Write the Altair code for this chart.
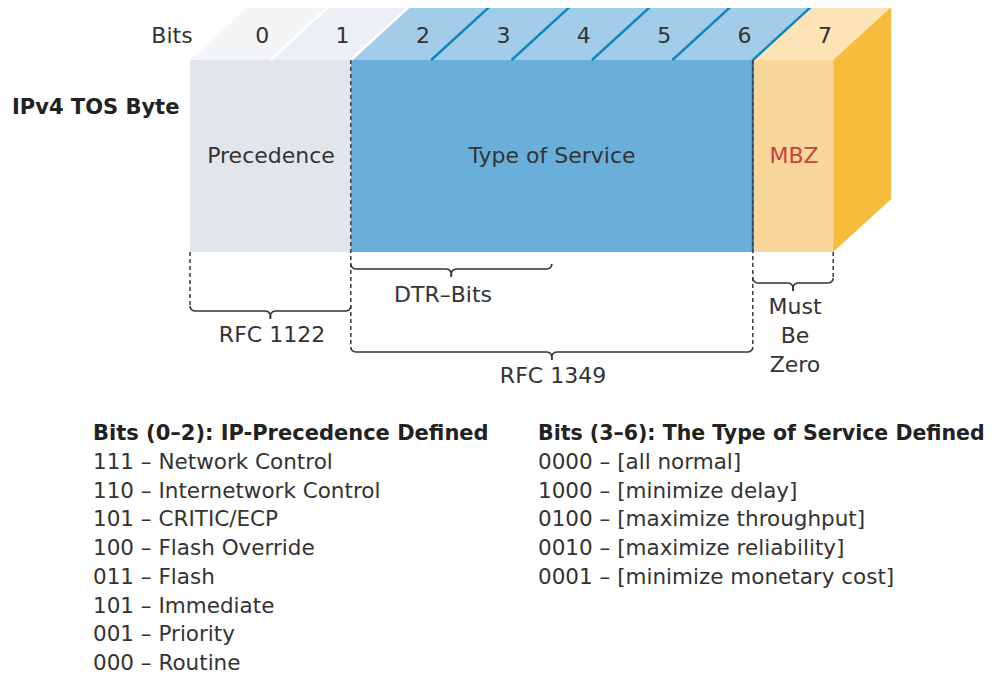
import math
import altair as alt
import pandas as pd

# ---------------- content ----------------
bit_labels = ["0", "1", "2", "3", "4", "5", "6", "7"]
field_names = ["Precedence", "Type of Service", "MBZ"]
field_start = [0, 2, 7]
field_end = [2, 7, 8]
field_text_color = ["#333333", "#333333", "#c9433a"]
front_colors = ["#e2e6eb", "#6aafda", "#f9d79a"]
top_colors = ["#f3f5f7", "#eceff3", "#a2cce8", "#a2cce8", "#a2cce8", "#a2cce8", "#a2cce8", "#fde3b6"]
side_color = "#f6bd3d"

# braces: (start bit, end bit, label lines)
brace_start = [0, 2, 2, 7]
brace_end = [2, 4.5, 7, 8]
brace_labels = [["RFC 1122"], ["DTR\u2013Bits"], ["RFC 1349"], ["Must", "Be", "Zero"]]

prec_header = "Bits (0\u20132): IP-Precedence Defined"
prec_codes = ["111", "110", "101", "100", "011", "101", "001", "000"]
prec_names = ["Network Control", "Internetwork Control", "CRITIC/ECP", "Flash Override",
              "Flash", "Immediate", "Priority", "Routine"]

tos_header = "Bits (3\u20136): The Type of Service Defined"
tos_codes = ["0000", "1000", "0100", "0010", "0001"]
tos_names = ["[all normal]", "[minimize delay]", "[maximize throughput]",
             "[maximize reliability]", "[minimize monetary cost]"]

# ---------------- layout (page pixel coordinates) ----------------
X0, BW = 190.0, 80.4
YT, YB = 60.0, 252.0
DX, DY = 58.0, -53.0
FONT = "DejaVu Sans"


def X(b):
    return X0 + BW * b


xs = alt.Scale(domain=[8, 989], zero=False, nice=False)
ys = alt.Scale(domain=[8, 676], zero=False, nice=False, reverse=True)


def enc(**kw):
    out = {}
    for k, v in kw.items():
        if k in ("x", "x2"):
            out[k] = alt.X(v, type="quantitative", scale=xs, axis=None) if k == "x" else alt.X2(v)
        elif k in ("y", "y2"):
            out[k] = alt.Y(v, type="quantitative", scale=ys, axis=None) if k == "y" else alt.Y2(v)
        else:
            out[k] = v
    return out


# top face (per bit parallelograms)
top_rows = []
for b in range(8):
    top_rows.append(dict(seg=b, y=YT, x=X(b), x2=X(b + 1), fill=top_colors[b]))
    top_rows.append(dict(seg=b, y=YT + DY, x=X(b) + DX, x2=X(b + 1) + DX, fill=top_colors[b]))
top = alt.Chart(pd.DataFrame(top_rows)).mark_area(orient="horizontal", strokeWidth=0).encode(
    **enc(y="y", x="x", x2="x2"),
    detail="seg:N",
    color=alt.Color("fill:N", scale=None),
)

# side face
side_df = pd.DataFrame([
    dict(x=X(8), y=YT, y2=YB),
    dict(x=X(8) + DX, y=YT + DY, y2=YB + DY),
])
side = alt.Chart(side_df).mark_area(color=side_color).encode(**enc(x="x", y="y", y2="y2"))

# front faces
front_df = pd.DataFrame(dict(
    x=[X(s) for s in field_start], x2=[X(e) for e in field_end],
    y=[YT] * 3, y2=[YB] * 3, fill=front_colors,
))
front = alt.Chart(front_df).mark_rect().encode(
    **enc(x="x", x2="x2", y="y", y2="y2"), color=alt.Color("fill:N", scale=None)
)

# separators on top face
sep_bits = [1, 2, 3, 4, 5, 6, 7]
sep_colors = ["#ffffff", "#ffffff", "#0b87bd", "#0b87bd", "#0b87bd", "#0b87bd", "#0b87bd"]
sep_df = pd.DataFrame(dict(
    x=[X(b) for b in sep_bits], y=[YT] * 7,
    x2=[X(b) + DX for b in sep_bits], y2=[YT + DY] * 7, c=sep_colors,
))
seps = alt.Chart(sep_df).mark_rule(strokeWidth=2.4).encode(
    **enc(x="x", y="y", x2="x2", y2="y2"), color=alt.Color("c:N", scale=None)
)

# solid dark-blue edge at bit 7 on front
edge7 = alt.Chart(pd.DataFrame(dict(x=[X(7)], y=[YT], y2=[YB]))).mark_rule(
    color="#1a6e9e", strokeWidth=2).encode(**enc(x="x", y="y", y2="y2"))

# dashed guides
R = 5.0
brace_y = [311.0, 269.0, 352.0, 283.0]
dash_df = pd.DataFrame(dict(
    x=[X(2), X(7), X(0), X(8)],
    y=[YT, YT, YB, YB],
    y2=[brace_y[2] - R, brace_y[2] - R, brace_y[0] - R, brace_y[3] - R],
))
dashes = alt.Chart(dash_df).mark_rule(color="#3a4656", strokeWidth=1.6, strokeDash=[4, 3]).encode(
    **enc(x="x", y="y", y2="y2"))

# braces


def arc(cx, cy, r, a0, a1, n=6):
    return [(cx + r * math.cos(math.radians(a0 + (a1 - a0) * i / n)),
             cy + r * math.sin(math.radians(a0 + (a1 - a0) * i / n))) for i in range(n + 1)]


brace_rows = []
for k in range(4):
    xa, xb, yl = X(brace_start[k]), X(brace_end[k]), brace_y[k]
    xm = (xa + xb) / 2
    left = arc(xa + R, yl - R, R, 180, 90) + arc(xm - R, yl + R, R, -90, 0) + [(xm, yl + 8)]
    right = arc(xb - R, yl - R, R, 0, 90) + arc(xm + R, yl + R, R, -90, -180) + [(xm, yl + 8)]
    for side_name, pts in (("L", left), ("R", right)):
        for i, (px, py) in enumerate(pts):
            brace_rows.append(dict(path=f"{k}{side_name}", i=i, x=px, y=py))
braces = alt.Chart(pd.DataFrame(brace_rows)).mark_line(color="#333333", strokeWidth=1.6).encode(
    **enc(x="x", y="y"), detail="path:N", order="i:Q")

# ---------------- texts ----------------
text_rows = []
text_rows.append(dict(t="Bits", x=172, y=36, s=22, w="normal", c="#333333", a="center"))
for b, lab in enumerate(bit_labels):
    text_rows.append(dict(t=lab, x=X(b + 0.5) + 32, y=36, s=22, w="normal", c="#333333", a="center"))
text_rows.append(dict(t="IPv4 TOS Byte", x=12, y=108, s=21, w="bold", c="#222222", a="left"))
field_cx = [271, 552, 794]
for name, cx, col in zip(field_names, field_cx, field_text_color):
    text_rows.append(dict(t=name, x=cx, y=156, s=22, w="normal", c=col, a="center"))
brace_text_x = [272, 443, 553, 795]
brace_text_y = [335, 295, 376, 307]
for k, lines in enumerate(brace_labels):
    for j, ln in enumerate(lines):
        text_rows.append(dict(t=ln, x=brace_text_x[k], y=brace_text_y[k] + 29 * j, s=22,
                              w="normal", c="#333333", a="center"))

LINE = 28.7
HEAD_Y = 434
FIRST_Y = 463
text_rows.append(dict(t=prec_header, x=93, y=HEAD_Y, s=21, w="bold", c="#222222", a="left"))
for j, (cd, nm) in enumerate(zip(prec_codes, prec_names)):
    text_rows.append(dict(t=f"{cd} \u2013 {nm}", x=93, y=FIRST_Y + LINE * j, s=21.5, w="normal",
                          c="#333333", a="left"))
text_rows.append(dict(t=tos_header, x=538, y=HEAD_Y, s=20.5, w="bold", c="#222222", a="left"))
for j, (cd, nm) in enumerate(zip(tos_codes, tos_names)):
    text_rows.append(dict(t=f"{cd} \u2013 {nm}", x=538, y=FIRST_Y + LINE * j, s=21.5, w="normal",
                          c="#333333", a="left"))

tdf = pd.DataFrame(text_rows)
text_layers = []
for (s, w, a), g in tdf.groupby(["s", "w", "a"]):
    text_layers.append(
        alt.Chart(g).mark_text(font=FONT, fontSize=float(s), fontWeight=w, align=a, baseline="middle")
        .encode(**enc(x="x", y="y"), text="t:N", color=alt.Color("c:N", scale=None))
    )

chart = alt.layer(top, side, front, seps, edge7, dashes, braces, *text_layers).properties(
    width=981, height=668, padding=0, autosize=alt.AutoSizeParams(type="none"),
    background="#ffffff",
).configure_view(stroke=None)

chart.save("out.html", embed_options={"renderer": "svg", "actions": False})
